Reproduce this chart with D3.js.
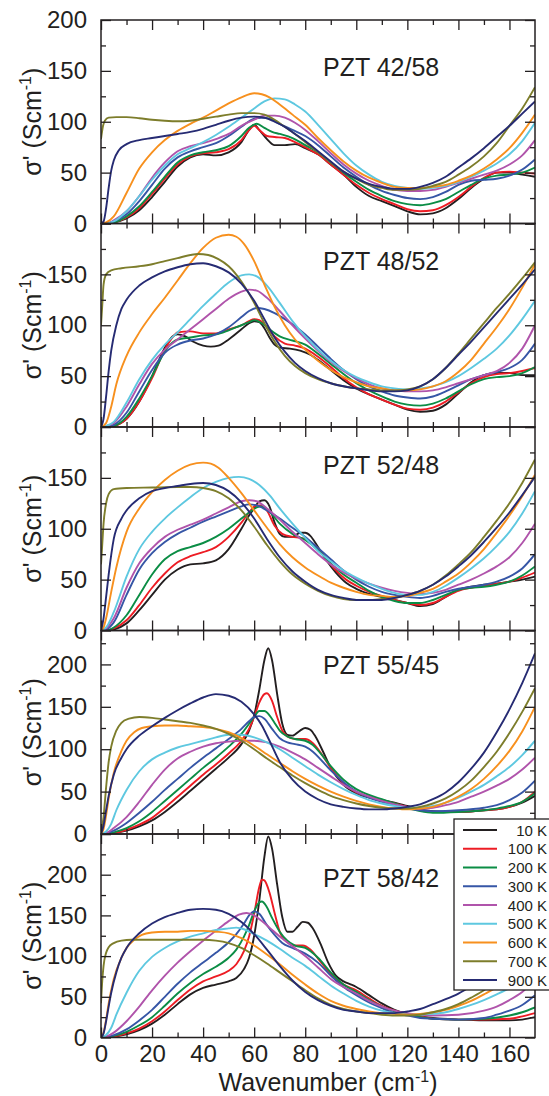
<!DOCTYPE html>
<html><head><meta charset="utf-8">
<script src="https://cdn.jsdelivr.net/npm/d3@7"></script>
<style>
body{margin:0;background:#fff}
svg{display:block}
text{font-family:"Liberation Sans",Arial,sans-serif;fill:#231f20}
</style>
</head><body>
<svg id="chart" width="549" height="1096"></svg>
<script>
// ---------- categories / labels ----------
const temps = ["10 K","100 K","200 K","300 K","400 K","500 K","600 K","700 K","900 K"];
const colors = ["#231f20","#ed1c24","#0b8d45","#3656a6","#b054ab","#5ec8e0","#f7901e","#7d7d2b","#262b73"];
const panelNames = ["PZT 42/58","PZT 48/52","PZT 52/48","PZT 55/45","PZT 58/42"];
const yMax = [200,200,200,240,250];
const yTickLabels = [[0,50,100,150,200],[0,50,100,150],[0,50,100,150],[0,50,100,150,200],[0,50,100,150,200]];
const xTickLabels = [0,20,40,60,80,100,120,140,160];

// ---------- PZT 42/58 ----------
const p1_10K=[[0,0],[2,0],[5,1],[10,5],[15,13],[20,26],[25,41],[30,56],[35,65],[40,68],[45,67],[50,70],[55,80],[58,92],[60,97],[62,92],[65,83],[68,77],[72,77],[76,78],[80,74],[85,68],[90,58],[95,48],[100,36],[105,27],[110,22],[115,17],[120,12],[125,9],[130,10],[135,15],[140,24],[145,35],[150,44],[155,50],[160,50],[165,48],[170,46]];
const p1_100K=[[0,0],[2,0],[5,1],[10,6],[15,15],[20,29],[25,44],[30,58],[35,66],[40,69],[45,70],[50,73],[55,82],[58,92],[60,96],[62,92],[65,86],[68,85],[72,84],[76,80],[80,75],[85,68],[90,58],[95,48],[100,38],[105,30],[110,24],[115,19],[120,14],[125,12],[130,13],[135,18],[140,26],[145,36],[150,45],[155,50],[160,51],[165,50],[170,49]];
const p1_200K=[[0,0],[2,0],[5,1],[10,7],[15,17],[20,31],[25,46],[30,60],[35,67],[40,70],[45,72],[50,76],[55,86],[58,94],[61,98],[64,94],[67,90],[70,88],[75,84],[80,77],[85,70],[90,60],[95,50],[100,41],[105,33],[110,27],[115,22],[120,19],[125,18],[130,20],[135,24],[140,31],[145,38],[150,44],[155,47],[160,48],[165,50],[170,55]];
const p1_300K=[[0,0],[2,0],[5,2],[10,9],[15,22],[20,38],[25,54],[30,65],[35,71],[40,75],[45,79],[50,86],[55,95],[60,103],[63,104],[66,103],[70,98],[75,92],[80,86],[85,77],[90,66],[95,55],[100,46],[105,38],[110,32],[115,28],[120,25],[125,24],[130,26],[135,31],[140,38],[145,42],[150,43],[155,44],[160,47],[165,53],[170,63]];
const p1_400K=[[0,0],[2,0],[5,3],[10,12],[15,27],[20,45],[25,60],[30,71],[35,76],[40,79],[45,83],[50,88],[55,96],[60,102],[64,106],[68,106],[72,104],[76,99],[80,92],[85,81],[90,69],[95,58],[100,49],[105,42],[110,37],[115,33],[120,32],[125,32],[130,33],[135,36],[140,40],[145,44],[150,48],[155,52],[160,58],[165,67],[170,82]];
const p1_500K=[[0,0],[2,0],[5,2],[10,12],[15,27],[20,43],[25,57],[30,68],[35,74],[40,80],[45,87],[50,95],[55,104],[60,113],[64,120],[68,123],[72,122],[76,117],[80,110],[85,97],[90,83],[95,69],[100,57],[105,48],[110,41],[115,37],[120,35],[125,34],[130,35],[135,37],[140,41],[145,46],[150,52],[155,59],[160,68],[165,81],[170,99]];
const p1_600K=[[0,0],[2,1],[5,7],[10,30],[15,54],[20,70],[25,82],[30,91],[35,98],[40,104],[45,111],[50,118],[55,124],[60,128],[63,127],[66,124],[70,117],[75,107],[80,97],[85,84],[90,72],[95,61],[100,52],[105,45],[110,40],[115,36],[120,35],[125,35],[130,36],[135,38],[140,42],[145,47],[150,54],[155,63],[160,74],[165,89],[170,107]];
const p1_700K=[[0,83],[0.8,96],[1.5,101],[3,104],[6,104.5],[10,104.5],[15,103.5],[20,102],[25,101],[30,100.5],[35,101],[40,103],[45,105],[50,107],[55,108.5],[60,108.5],[64,107],[68,102],[72,95],[76,88],[80,80],[85,70],[90,60],[95,51],[100,44],[105,38],[110,35],[115,33],[120,33],[125,34],[130,37],[135,41],[140,48],[145,56],[150,66],[155,79],[160,96],[165,113],[170,134]];
const p1_900K=[[0,0],[1,2],[2,15],[3,35],[4,52],[5,62],[7,72],[10,78],[15,82],[20,84],[25,86],[30,88],[35,90],[40,93],[45,97],[50,101],[55,104],[60,105],[64,104],[68,100],[72,95],[76,88],[80,81],[85,71],[90,61],[95,51],[100,44],[105,39],[110,36],[115,34],[120,34],[125,36],[130,40],[135,46],[140,55],[145,64],[150,74],[155,85],[160,96],[165,108],[170,120]];

// ---------- PZT 48/52 ----------
const p2_10K=[[0,0],[2,0],[5,1],[10,8],[15,25],[20,50],[25,78],[28,89],[30,91],[33,89],[36,84],[40,80],[43,79],[46,80],[50,86],[55,96],[58,102],[60,104],[62,103],[64,97],[66,88],[68,81],[70,78],[74,77],[78,75],[82,71],[86,64],[90,56],[95,46],[100,38],[105,32],[110,27],[115,22],[120,17],[125,15],[130,16],[135,22],[140,33],[145,44],[150,51],[155,53],[160,53],[165,51],[170,51]];
const p2_100K=[[0,0],[2,0],[5,1],[10,8],[15,25],[20,48],[25,76],[28,88],[30,93],[35,94],[40,92],[45,92],[50,96],[55,100],[58,104],[60,106],[62,105],[65,98],[68,89],[72,82],[76,80],[80,77],[85,69],[90,59],[95,48],[100,39],[105,32],[110,27],[115,22],[120,18],[125,17],[130,19],[135,25],[140,34],[145,43],[150,49],[155,52],[160,53],[165,55],[170,58]];
const p2_200K=[[0,0],[2,0],[5,1],[10,10],[15,28],[20,50],[25,74],[28,83],[30,86],[35,88],[40,90],[45,91],[50,95],[55,100],[58,103],[60,105],[63,102],[66,96],[70,89],[75,85],[80,81],[85,72],[90,62],[95,52],[100,43],[105,36],[110,30],[115,25],[120,22],[125,21],[130,23],[135,28],[140,35],[145,42],[150,47],[155,49],[160,50],[165,53],[170,59]];
const p2_300K=[[0,0],[2,0],[5,2],[10,14],[15,35],[20,56],[25,73],[30,81],[35,85],[40,87],[45,91],[50,98],[55,108],[58,114],[61,117],[64,116],[68,112],[72,106],[76,99],[80,91],[85,79],[90,67],[95,56],[100,47],[105,40],[110,35],[115,31],[120,29],[125,28],[130,30],[135,35],[140,41],[145,47],[150,51],[155,54],[160,58],[165,66],[170,82]];
const p2_400K=[[0,0],[2,1],[5,4],[10,20],[15,42],[20,62],[25,76],[30,86],[35,96],[40,106],[45,116],[50,126],[55,133],[58,135],[61,134],[65,127],[70,114],[75,100],[80,87],[85,75],[90,64],[95,55],[100,48],[105,42],[110,38],[115,36],[120,35],[125,35],[130,36],[135,39],[140,43],[145,47],[150,51],[155,55],[160,63],[165,77],[170,100]];
const p2_500K=[[0,0],[2,1],[5,5],[10,24],[15,47],[20,66],[25,81],[30,93],[35,106],[40,119],[45,131],[50,142],[55,149],[58,150],[61,148],[65,139],[70,122],[75,104],[80,89],[85,76],[90,65],[95,56],[100,49],[105,44],[110,40],[115,38],[120,37],[125,38],[130,40],[135,44],[140,50],[145,58],[150,67],[155,77],[160,90],[165,106],[170,124]];
const p2_600K=[[0,0],[2,4],[4,20],[6,42],[10,70],[15,93],[20,111],[25,127],[30,144],[35,161],[40,176],[45,186],[50,189],[53,187],[56,180],[60,163],[64,140],[68,118],[72,100],[76,86],[80,76],[85,65],[90,56],[95,49],[100,44],[105,40],[110,38],[115,36],[120,36],[125,37],[130,40],[135,45],[140,54],[145,66],[150,82],[155,98],[160,116],[165,137],[170,160]];
const p2_700K=[[0,100],[0.5,120],[1,140],[2,150],[4,154],[8,156],[15,158],[20,160],[25,163],[30,166],[35,169],[38,170],[42,169],[46,165],[50,158],[55,143],[60,122],[64,102],[68,84],[72,70],[76,60],[80,53],[85,47],[90,43],[95,40],[100,38],[105,37],[110,36],[115,36],[120,37],[125,40],[130,47],[135,58],[140,72],[145,87],[150,102],[155,117],[160,131],[165,146],[170,162]];
const p2_900K=[[0,0],[1,8],[2,30],[3,55],[4,75],[6,100],[8,116],[10,125],[15,139],[20,147],[25,153],[30,157],[35,160],[40,161],[45,158],[50,152],[55,141],[60,124],[64,106],[68,88],[72,74],[76,63],[80,55],[85,48],[90,43],[95,40],[100,38],[105,36],[110,35],[115,35],[120,36],[125,40],[130,47],[135,58],[140,71],[145,84],[150,98],[155,112],[160,126],[165,140],[170,155]];

// ---------- PZT 52/48 ----------
const p3_10K=[[0,0],[2,0],[5,1],[10,7],[15,20],[20,35],[25,50],[30,60],[35,65],[40,66],[45,69],[50,80],[55,100],[58,113],[60,120],[62,127],[64,128],[66,122],[68,106],[70,95],[72,92],[75,92],[78,96],[80,96],[82,93],[85,82],[88,70],[92,57],[96,47],[100,41],[105,36],[110,33],[115,30],[120,27],[125,24],[130,26],[135,33],[140,40],[145,43],[150,45],[155,46],[160,48],[165,50],[170,53]];
const p3_100K=[[0,0],[2,0],[5,2],[10,10],[15,25],[20,42],[25,56],[30,67],[35,73],[40,77],[45,82],[50,92],[55,106],[58,116],[61,123],[63,123],[65,118],[68,103],[71,95],[75,92],[78,91],[81,89],[84,83],[88,71],[92,59],[96,50],[100,44],[105,38],[110,34],[115,30],[120,27],[125,25],[130,27],[135,33],[140,39],[145,42],[150,44],[155,46],[160,48],[165,52],[170,57]];
const p3_200K=[[0,0],[2,0],[5,3],[10,15],[15,35],[20,55],[25,70],[30,78],[35,82],[40,86],[45,92],[50,100],[55,110],[58,116],[61,121],[63,122],[66,117],[70,105],[75,95],[80,89],[85,79],[90,66],[95,55],[100,47],[105,39],[110,33],[115,29],[120,27],[125,27],[130,30],[135,35],[140,40],[145,42],[150,43],[155,45],[160,48],[165,54],[170,63]];
const p3_300K=[[0,0],[2,1],[5,8],[10,35],[15,60],[20,76],[25,87],[30,95],[35,101],[40,107],[45,112],[50,117],[55,122],[58,124],[61,123],[65,118],[70,110],[75,101],[80,92],[85,81],[90,70],[95,59],[100,50],[105,43],[110,38],[115,35],[120,33],[125,32],[130,34],[135,38],[140,41],[145,43],[150,45],[155,48],[160,53],[165,61],[170,75]];
const p3_400K=[[0,0],[2,2],[5,12],[10,42],[15,66],[20,81],[25,92],[30,99],[35,104],[40,109],[45,115],[50,121],[55,127],[58,128],[61,127],[65,120],[70,109],[75,97],[80,86],[85,75],[90,65],[95,57],[100,51],[105,46],[110,42],[115,39],[120,37],[125,36],[130,37],[135,40],[140,45],[145,50],[150,56],[155,63],[160,72],[165,86],[170,105]];
const p3_500K=[[0,0],[2,3],[5,18],[10,53],[15,80],[20,97],[25,110],[30,121],[35,131],[40,140],[45,146],[50,150],[54,151],[58,149],[62,143],[66,133],[70,120],[75,105],[80,91],[85,78],[90,68],[95,59],[100,52],[105,46],[110,41],[115,37],[120,35],[125,35],[130,38],[135,44],[140,52],[145,61],[150,71],[155,83],[160,97],[165,115],[170,137]];
const p3_600K=[[0,0],[1,3],[2,12],[4,38],[6,62],[10,97],[15,120],[20,136],[25,148],[30,157],[35,163],[40,165],[43,164],[46,160],[50,150],[55,135],[60,118],[65,101],[70,85],[75,72],[80,62],[85,54],[90,47],[95,42],[100,38],[105,35],[110,34],[115,33],[120,34],[125,37],[130,41],[135,48],[140,56],[145,67],[150,80],[155,96],[160,113],[165,132],[170,153]];
const p3_700K=[[0,65],[0.5,85],[1,105],[2,125],[3,134],[5,139],[10,140],[20,140.5],[30,141],[35,141],[40,140],[45,137],[50,130],[55,118],[60,102],[65,84],[70,68],[75,55],[80,46],[85,39],[90,34],[95,31],[100,30],[105,30],[110,31],[115,32],[120,35],[125,39],[130,45],[135,54],[140,65],[145,77],[150,92],[155,108],[160,125],[165,145],[170,168]];
const p3_900K=[[0,0],[1,12],[2,33],[3,55],[5,90],[8,110],[10,118],[15,130],[20,137],[25,140],[30,142],[35,144],[40,145],[45,143],[50,137],[55,126],[60,110],[65,90],[70,72],[75,58],[80,48],[85,40],[90,35],[95,32],[100,30],[105,30],[110,30],[115,32],[120,35],[125,39],[130,45],[135,53],[140,63],[145,74],[150,87],[155,101],[160,116],[165,133],[170,151]];

// ---------- PZT 55/45 ----------
const p4_10K=[[0,0],[2,0],[5,1],[10,4],[15,9],[20,16],[25,26],[30,38],[35,51],[40,64],[45,77],[50,90],[55,106],[58,122],[60,140],[62,170],[64,205],[65.5,219],[67,205],[69,165],[71,130],[73,117],[75,116],[78,122],[80,125],[82,123],[84,115],[87,97],[90,78],[95,58],[100,48],[105,43],[110,40],[115,37],[120,33],[125,29],[130,27],[140,26],[150,28],[155,29],[160,32],[165,37],[170,45]];
const p4_100K=[[0,0],[2,0],[5,1],[10,5],[15,11],[20,19],[25,31],[30,44],[35,57],[40,70],[45,82],[50,95],[55,110],[58,124],[60,138],[62,155],[64,165],[65,166],[67,157],[69,138],[71,122],[73,115],[76,112],[80,112],[83,107],[86,96],[90,78],[95,60],[100,49],[105,44],[110,40],[115,36],[120,32],[125,28],[130,26],[140,26],[150,28],[155,29],[160,32],[165,38],[170,50]];
const p4_200K=[[0,0],[2,0],[5,2],[10,7],[15,15],[20,26],[25,39],[30,52],[35,65],[40,78],[45,90],[50,103],[55,118],[58,130],[60,138],[62,145],[64,145],[66,140],[68,131],[70,122],[73,115],[76,112],[80,110],[83,105],[86,95],[90,80],[95,64],[100,53],[105,46],[110,41],[115,36],[120,31],[125,27],[130,25],[140,26],[150,28],[155,30],[160,33],[165,38],[170,48]];
const p4_300K=[[0,0],[2,1],[5,4],[10,13],[15,25],[20,38],[25,52],[30,65],[35,78],[40,90],[45,101],[50,112],[55,124],[58,133],[60,138],[62,139],[64,136],[67,124],[70,113],[73,108],[76,106],[80,103],[83,97],[86,88],[90,75],[95,61],[100,50],[105,43],[110,38],[115,34],[120,30],[125,28],[130,27],[140,28],[150,31],[155,34],[160,40],[165,49],[170,63]];
const p4_400K=[[0,0],[2,1],[5,7],[10,20],[15,38],[20,58],[25,76],[30,89],[35,97],[40,103],[45,107],[50,109],[55,110],[60,110],[65,108],[70,103],[75,96],[80,88],[85,78],[90,68],[95,58],[100,50],[105,44],[110,39],[115,35],[120,32],[125,30],[130,31],[135,34],[140,38],[145,44],[150,50],[155,57],[160,65],[165,76],[170,90]];
const p4_500K=[[0,0],[2,3],[4,12],[6,28],[10,52],[15,74],[20,88],[25,96],[30,102],[35,106],[40,110],[45,114],[50,117],[55,117],[60,114],[65,108],[70,100],[75,90],[80,80],[85,70],[90,61],[95,53],[100,46],[105,40],[110,36],[115,33],[120,31],[125,31],[130,33],[135,37],[140,43],[145,50],[150,58],[155,68],[160,79],[165,93],[170,110]];
const p4_600K=[[0,0],[1,6],[2,22],[3,42],[5,72],[8,98],[10,110],[13,120],[16,125],[20,127],[25,128],[30,128],[35,127],[40,126],[45,124],[50,120],[55,113],[60,104],[65,94],[70,84],[75,74],[80,65],[85,57],[90,50],[95,44],[100,39],[105,35],[110,32],[115,30],[120,29],[125,30],[130,32],[135,37],[140,44],[145,53],[150,65],[155,80],[160,98],[165,121],[170,150]];
const p4_700K=[[0,2],[1,20],[2,55],[3,85],[4,103],[6,122],[8,131],[11,136],[15,138],[20,137],[25,135],[30,133],[35,131],[40,128],[45,124],[50,118],[55,110],[60,100],[65,89],[70,79],[75,69],[80,60],[85,52],[90,45],[95,40],[100,36],[105,33],[110,31],[115,30],[120,30],[125,32],[130,36],[135,42],[140,51],[145,63],[150,79],[155,97],[160,119],[165,144],[170,172]];
const p4_900K=[[0,0],[1,10],[2,28],[3,45],[5,70],[8,90],[10,100],[15,116],[20,127],[25,137],[30,146],[35,154],[40,161],[45,165],[50,163],[55,156],[60,141],[63,128],[66,110],[70,85],[75,64],[80,50],[85,41],[90,35],[95,32],[100,30],[105,29],[110,29],[115,30],[120,32],[125,35],[130,41],[135,49],[140,61],[145,77],[150,96],[155,120],[160,147],[165,178],[170,213]];

// ---------- PZT 58/42 ----------
const p5_10K=[[0,0],[2,0],[5,1],[10,4],[15,9],[20,17],[25,28],[30,41],[35,53],[40,61],[45,65],[50,69],[53,73],[56,84],[58,98],[60,125],[62,168],[64,222],[65.5,247],[67,232],[69,188],[71,148],[73,130],[75,130],[77,136],[79,142],[81,141],[83,134],[86,115],[89,92],[92,76],[95,69],[98,65],[100,62],[105,52],[110,42],[115,34],[120,29],[125,26],[130,24],[140,22],[150,21],[160,21],[165,22],[170,25]];
const p5_100K=[[0,0],[2,0],[5,1],[10,5],[15,11],[20,20],[25,32],[30,46],[35,59],[40,69],[45,75],[50,82],[53,90],[56,106],[58,124],[60,152],[62,185],[63,194],[64,193],[66,178],[68,153],[70,130],[73,117],[76,113],[79,113],[82,108],[85,97],[90,78],[95,65],[100,58],[105,48],[110,39],[115,33],[120,29],[125,26],[130,23],[140,22],[150,22],[160,23],[165,26],[170,30]];
const p5_200K=[[0,0],[2,0],[5,2],[10,7],[15,15],[20,25],[25,39],[30,54],[35,67],[40,78],[45,87],[50,98],[53,108],[56,124],[58,138],[60,155],[62,166],[63,167],[65,160],[67,147],[70,130],[73,119],[76,113],[80,110],[85,98],[90,80],[95,65],[100,56],[105,46],[110,38],[115,32],[120,28],[125,25],[130,23],[140,22],[150,23],[160,27],[165,31],[170,37]];
const p5_300K=[[0,0],[2,1],[5,3],[10,10],[15,21],[20,34],[25,50],[30,66],[35,80],[40,92],[45,104],[50,117],[53,127],[56,140],[58,150],[60,155],[62,152],[65,138],[68,126],[71,116],[75,110],[80,103],[85,92],[90,76],[95,62],[100,52],[105,43],[110,36],[115,30],[120,27],[125,24],[130,23],[140,22],[150,24],[155,28],[160,33],[165,40],[170,52]];
const p5_400K=[[0,0],[2,1],[5,6],[10,20],[15,38],[20,58],[25,76],[30,92],[35,106],[40,119],[45,131],[50,143],[54,151],[57,153],[60,150],[63,143],[66,135],[70,124],[75,112],[80,100],[85,86],[90,72],[95,62],[100,54],[105,45],[110,38],[115,33],[120,30],[125,28],[130,27],[140,28],[150,33],[155,38],[160,46],[165,56],[170,70]];
const p5_500K=[[0,0],[2,3],[4,12],[6,28],[10,55],[15,82],[20,99],[25,110],[30,118],[35,124],[40,128],[45,132],[50,134],[53,135],[56,133],[60,127],[65,119],[70,109],[75,98],[80,88],[85,76],[90,64],[95,54],[100,45],[105,38],[110,33],[115,30],[120,28],[125,28],[130,29],[135,31],[140,35],[145,40],[150,46],[155,53],[160,61],[165,72],[170,86]];
const p5_600K=[[0,0],[1,6],[2,22],[3,42],[5,72],[8,98],[10,110],[13,120],[16,126],[20,129],[25,130],[30,130],[35,131],[40,131],[45,130],[50,128],[55,122],[60,113],[65,102],[70,90],[75,77],[80,65],[85,54],[90,45],[95,39],[100,35],[105,32],[110,30],[115,29],[120,28],[125,29],[130,31],[135,34],[140,39],[145,45],[150,53],[155,62],[160,75],[165,90],[170,110]];
const p5_700K=[[0,42],[0.5,70],[1,88],[2,104],[3,111],[5,116],[8,119],[12,120],[20,120],[30,120],[40,120],[45,119],[50,116],[55,110],[60,101],[65,91],[70,80],[75,69],[80,58],[85,48],[90,40],[95,35],[100,32],[105,30],[110,28],[115,27],[120,27],[125,28],[130,31],[135,35],[140,41],[145,49],[150,58],[155,70],[160,85],[165,101],[170,120]];
const p5_900K=[[0,0],[1,5],[2,20],[3,38],[4,55],[6,80],[8,98],[10,110],[15,128],[20,140],[25,148],[30,153],[35,157],[40,158],[45,157],[50,152],[55,142],[60,127],[65,108],[70,88],[75,70],[80,56],[85,46],[90,39],[95,34],[100,32],[105,30],[110,30],[115,30],[120,32],[125,35],[130,41],[135,47],[140,54],[145,63],[150,73],[155,84],[160,96],[165,108],[170,122]];

const panelSeries = [
  [p1_10K,p1_100K,p1_200K,p1_300K,p1_400K,p1_500K,p1_600K,p1_700K,p1_900K],
  [p2_10K,p2_100K,p2_200K,p2_300K,p2_400K,p2_500K,p2_600K,p2_700K,p2_900K],
  [p3_10K,p3_100K,p3_200K,p3_300K,p3_400K,p3_500K,p3_600K,p3_700K,p3_900K],
  [p4_10K,p4_100K,p4_200K,p4_300K,p4_400K,p4_500K,p4_600K,p4_700K,p4_900K],
  [p5_10K,p5_100K,p5_200K,p5_300K,p5_400K,p5_500K,p5_600K,p5_700K,p5_900K]
];

// ---------- layout ----------
const left = 101, right = 535, top0 = 20, panelH = 203.5;
const ink = "#231f20";
const svg = d3.select("#chart");
const x = d3.scaleLinear().domain([0,170]).range([left,right]);
const labelY = [76, 270, 474, 674, 887];

panelSeries.forEach((series, i) => {
  const top = top0 + i*panelH, bot = top + panelH;
  const y = d3.scaleLinear().domain([0, yMax[i]]).range([bot, top]);
  const g = svg.append("g");
  const cid = "clip"+i;
  svg.append("clipPath").attr("id", cid).append("rect")
    .attr("x", left).attr("y", top).attr("width", right-left).attr("height", panelH);

  const line = d3.line().x(d => x(d[0])).y(d => y(d[1])).curve(d3.curveMonotoneX);
  const lg = g.append("g").attr("clip-path", `url(#${cid})`);
  series.forEach((s, k) => {
    lg.append("path").attr("d", line(s)).attr("fill","none")
      .attr("stroke", colors[k]).attr("stroke-width", 1.9).attr("stroke-linejoin","round");
  });

  // ticks
  const xMajor = d3.range(0, 171, 20), xMinor = d3.range(10, 170, 20);
  const yMajor = d3.range(0, yMax[i]+0.1, 50), yMinor = d3.range(25, yMax[i], 50);
  const styleAxis = a => { a.select(".domain").remove(); a.selectAll("line").attr("stroke", ink).attr("stroke-width", 1.3); };

  [[xMajor,10],[xMinor,5]].forEach(([vals,len]) => {
    const showLbl = (i === 4 && len === 10);
    const ab = g.append("g").attr("transform",`translate(0,${bot})`)
      .call(d3.axisBottom(x).tickValues(vals).tickSize(-len).tickPadding(7)
        .tickFormat(d => showLbl && xTickLabels.includes(d) ? d : ""));
    styleAxis(ab);
    ab.selectAll("text").attr("font-size", 24).attr("fill", ink).style("font-family", '"Liberation Sans", Arial, sans-serif');
    const at = g.append("g").attr("transform",`translate(0,${top})`)
      .call(d3.axisTop(x).tickValues(vals).tickSize(-len).tickFormat(""));
    styleAxis(at);
  });
  [[yMajor,10],[yMinor,5]].forEach(([vals,len]) => {
    const al = g.append("g").attr("transform",`translate(${left},0)`)
      .call(d3.axisLeft(y).tickValues(vals).tickSize(-len).tickPadding(14)
        .tickFormat(d => len === 10 && yTickLabels[i].includes(d) ? d : ""));
    styleAxis(al);
    al.selectAll("text").attr("font-size", 24).attr("fill", ink).style("font-family", '"Liberation Sans", Arial, sans-serif');
    const ar = g.append("g").attr("transform",`translate(${right},0)`)
      .call(d3.axisRight(y).tickValues(vals).tickSize(-len).tickFormat(""));
    styleAxis(ar);
  });

  // frame
  g.append("rect").attr("x", left).attr("y", top).attr("width", right-left).attr("height", panelH)
    .attr("fill","none").attr("stroke", ink).attr("stroke-width", 1.5);

  // panel label
  g.append("text").attr("x", 323).attr("y", labelY[i]).attr("font-size", 25).text(panelNames[i]);

  // y axis title
  const yt = g.append("text").attr("transform", `translate(41,${(top+bot)/2}) rotate(-90)`)
    .attr("text-anchor","middle").attr("font-size", 25);
  yt.append("tspan").text("σ' (Scm");
  yt.append("tspan").attr("font-size", 16).attr("dy", -10).text("-1");
  yt.append("tspan").attr("dy", 10).text(")");
});

// x axis title
const xt = svg.append("text").attr("x", 328).attr("y", 1091).attr("text-anchor","middle").attr("font-size", 25);
xt.append("tspan").text("Wavenumber (cm");
xt.append("tspan").attr("font-size", 16).attr("dy", -9).text("-1");
xt.append("tspan").attr("dy", 9).text(")");

// legend
const lgX = 454, lgY = 819, rowH = 18.75;
const leg = svg.append("g");
leg.append("rect").attr("x", lgX).attr("y", lgY).attr("width", 110).attr("height", 171)
  .attr("fill","#fff").attr("stroke", ink).attr("stroke-width", 1.3);
temps.forEach((t, k) => {
  const cy = lgY + 11 + k*rowH;
  leg.append("line").attr("x1", 463).attr("x2", 497).attr("y1", cy).attr("y2", cy)
    .attr("stroke", colors[k]).attr("stroke-width", 1.9);
  leg.append("text").attr("x", 547).attr("y", cy + 5.5).attr("text-anchor","end")
    .attr("font-size", 15).text(t);
});
</script>
</body></html>
